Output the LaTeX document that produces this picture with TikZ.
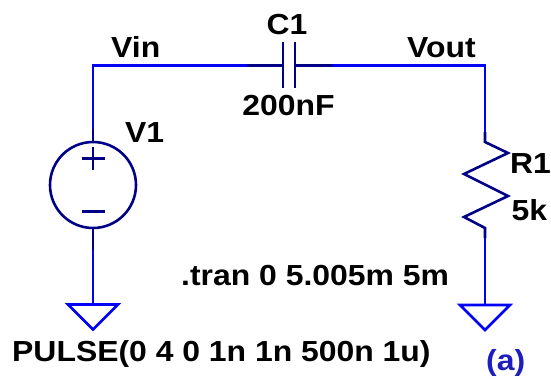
\documentclass[tikz,border=0pt]{standalone}
\usepackage{fontspec}
\setmainfont{Liberation Sans}[FakeStretch=1.1]
\definecolor{wireblue}{RGB}{0,0,245}
\definecolor{partnavy}{RGB}{0,0,135}
\definecolor{labelblue}{RGB}{30,30,190}
\begin{document}
\begin{tikzpicture}[x=1pt,y=-1pt,
  wire/.style={draw=wireblue,line width=2.6pt,line join=miter},
  part/.style={draw=partnavy,line width=2.6pt,line join=miter},
  lbl/.style={inner sep=0pt,anchor=base west,font=\fontsize{29}{30}\selectfont\bfseries,text=black}]
\useasboundingbox (0,0) rectangle (551,378);
% key points
\coordinate (tl) at (93,65.5);
\coordinate (tr) at (485,65.5);
\coordinate (cl) at (247,65.5);
\coordinate (cpl) at (283,65.5);
\coordinate (cpr) at (295,65.5);
\coordinate (cr) at (332,65.5);
\coordinate (vtop) at (93,129);
\coordinate (vbot) at (93,250);
\coordinate (gl) at (93,304.5);
\coordinate (rtop) at (485,132);
\coordinate (rz0) at (485,142);
\coordinate (rz5) at (485,228);
\coordinate (rbot) at (485,238);
\coordinate (gr) at (485,305);
% wires
\draw[wire] (vtop) -- (tl) -- (cl);
\draw[wire] (cr) -- (tr) -- (rtop);
\draw[wire] (vbot) -- (gl);
\draw[wire] (rbot) -- (gr);
% capacitor
\draw[part] (cl) -- (cpl);
\draw[part] (cpr) -- (cr);
\draw[part] (283,42) -- (283,87.5);
\draw[part] (295,42) -- (295,87.5);
% voltage source
\node[circle,part,minimum size=86pt,inner sep=0pt] (V1) at (93,185) {};
\draw[part] (vtop) -- (V1.north);
\draw[part] (V1.south) -- (vbot);
\draw[part,line width=2.3pt] (81.5,158.5) -- (104.5,158.5);
\draw[part,line width=2.3pt] (93,147) -- (93,170);
\draw[part,line width=2.3pt] (81.5,211.5) -- (104.5,211.5);
% resistor
\draw[part] (rtop) -- (rz0) -- (508,153) -- (464,174) -- (508,196) -- (464,217) -- (rz5) -- (rbot);
% grounds
\draw[wire] (gl) ++(-25,0) -- ++(50,0) -- ++(-25,25) -- cycle;
\draw[wire] (gr) ++(-25,0) -- ++(50,0) -- ++(-25,25) -- cycle;
% labels
\node[lbl] (vin) at (111,57) {Vin};
\node[lbl] (vout) at (407,57) {Vout};
\node[lbl,anchor=base] (c1) at (287,34) {C1};
\node[lbl,anchor=base] (c1v) at (288.5,115) {200nF};
\node[lbl] (v1) at (125,142) {V1};
\node[lbl] (r1) at (510,173) {R1};
\node[lbl] (r1v) at (511.5,220) {5k};
\node[lbl] (tran) at (181,285) {.tran 0 5.005m 5m};
\node[lbl] (pulse) at (12,361) {PULSE(0 4 0 1n 1n 500n 1u)};
\node[lbl,text=labelblue] (tag) at (486,370) {(a)};
\end{tikzpicture}
\end{document}
